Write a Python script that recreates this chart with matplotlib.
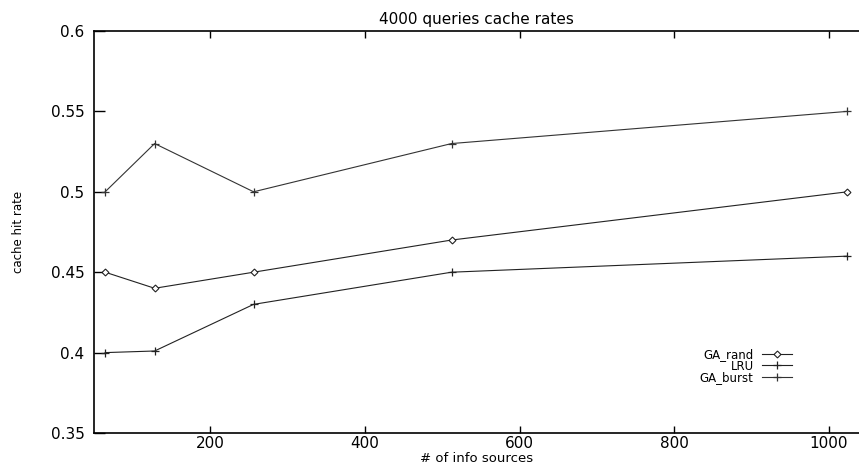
import matplotlib
matplotlib.use("Agg")
import matplotlib.pyplot as plt

# number of info sources
sources = [64, 128, 256, 512, 1024]

# cache hit rate per strategy
ga_rand = [0.45, 0.44, 0.45, 0.47, 0.50]
lru = [0.40, 0.401, 0.43, 0.45, 0.46]
ga_burst = [0.50, 0.53, 0.50, 0.53, 0.55]

x_ticks = [200, 400, 600, 800, 1000]
y_ticks = [0.35, 0.4, 0.45, 0.5, 0.55, 0.6]
y_tick_labels = ["0.35", "0.4", "0.45", "0.5", "0.55", "0.6"]


def main():
    plt.rcParams["font.family"] = "DejaVu Sans"
    fig = plt.figure(figsize=(8.59, 4.66), dpi=100)
    ax = fig.add_axes([0.1098, 0.0708, 0.8902, 0.8627])

    ax.plot(sources, ga_rand, color="#222222", lw=0.8, marker="D", markersize=3.5,
            markerfacecolor="white", markeredgecolor="#222222", markeredgewidth=0.8,
            label="GA_rand")
    ax.plot(sources, lru, color="#222222", lw=0.8, marker="+", markersize=6,
            markeredgewidth=0.9, label="LRU")
    ax.plot(sources, ga_burst, color="#333333", lw=0.8, marker="+", markersize=6,
            markeredgewidth=0.9, label="GA_burst")

    ax.set_xlim(50, 1039)
    ax.set_ylim(0.35, 0.6)
    ax.set_xticks(x_ticks)
    ax.set_yticks(y_ticks)
    ax.set_yticklabels(y_tick_labels)

    ax.tick_params(axis="x", direction="in", length=5, width=1, top=True,
                   labelsize=11, pad=2)
    ax.tick_params(axis="y", direction="in", length=8, width=1, right=False,
                   labelsize=11, pad=7)
    for side in ["left", "bottom", "top"]:
        ax.spines[side].set_linewidth(1.2)
    ax.spines["right"].set_visible(False)

    ax.set_title("4000 queries cache rates", fontsize=11, pad=5)
    ax.set_ylabel("cache hit rate", fontsize=8.5)
    ax.yaxis.set_label_coords(-0.0906, 0.5)
    fig.text(0.555, 0.002, "# of info sources", fontsize=9.5, ha="center", va="bottom")

    ax.legend(loc="upper right", bbox_to_anchor=(0.913, 0.212), frameon=False,
              markerfirst=False, fontsize=8.5, handlelength=2.6, handletextpad=0.7,
              labelspacing=-0.1, borderpad=0, borderaxespad=0)

    plt.savefig("out.png", dpi=100)


if __name__ == "__main__":
    main()
